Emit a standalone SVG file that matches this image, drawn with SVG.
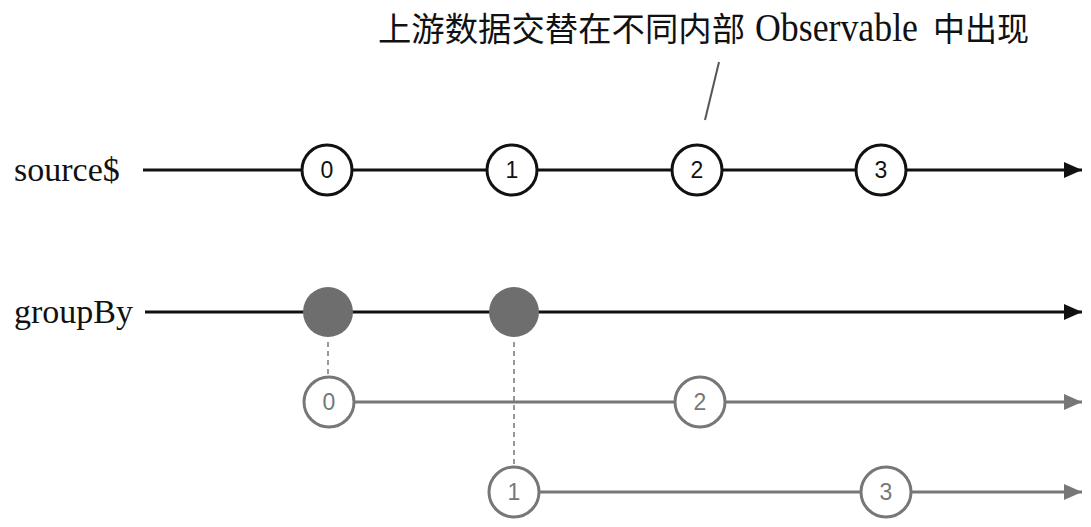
<svg xmlns="http://www.w3.org/2000/svg" width="1091" height="527" viewBox="0 0 1091 527">
<style>
.lbl{font-family:"Liberation Serif","Noto Sans CJK SC",serif;font-size:34px;fill:#111}
.title{font-family:"Liberation Serif","Noto Sans CJK SC",serif;font-size:33px;fill:#111}
.num{font-family:"Liberation Sans",Arial,sans-serif;font-size:23px;text-anchor:middle}
.blk{stroke:#111;stroke-width:3;fill:none}
.gry{stroke:#777;stroke-width:3;fill:none}
.cb{fill:#fff;stroke:#111;stroke-width:3}
.cg{fill:#fff;stroke:#777;stroke-width:3}
.nb{fill:#111}
.ng{fill:#777}
.dash{stroke:#777;stroke-width:1.5;stroke-dasharray:5,4;fill:none}
</style>
<defs>
<marker id="ab" markerWidth="18" markerHeight="16" refX="18" refY="8" orient="auto" markerUnits="userSpaceOnUse" viewBox="0 0 18 16"><path d="M0,0 L18,8 L0,16 z" fill="#111"/></marker>
<marker id="ag" markerWidth="18" markerHeight="16" refX="18" refY="8" orient="auto" markerUnits="userSpaceOnUse" viewBox="0 0 18 16"><path d="M0,0 L18,8 L0,16 z" fill="#777"/></marker>
</defs>
<rect width="1091" height="527" fill="#fff"/>
<text class="title" y="41"><tspan x="378" textLength="367" lengthAdjust="spacingAndGlyphs">上游数据交替在不同内部</tspan><tspan x="755" font-size="39" textLength="163" lengthAdjust="spacingAndGlyphs">Observable</tspan><tspan x="933" textLength="96" lengthAdjust="spacingAndGlyphs">中出现</tspan></text>
<line x1="719" y1="62" x2="705" y2="120" stroke="#555" stroke-width="2"/>
<text class="lbl" x="14" y="181">source$</text>
<text class="lbl" x="14" y="323">groupBy</text>
<g id="connectors">
<line class="blk" x1="143" y1="170" x2="1082" y2="170" marker-end="url(#ab)"/>
<line class="blk" x1="145" y1="312" x2="1082" y2="312" marker-end="url(#ab)"/>
<line class="gry" x1="354" y1="402" x2="1082" y2="402" marker-end="url(#ag)"/>
<line class="gry" x1="539" y1="492" x2="1082" y2="492" marker-end="url(#ag)"/>
<line class="dash" x1="328" y1="342" x2="328" y2="376"/>
<line class="dash" x1="514" y1="342" x2="514" y2="466"/>
</g>
<g id="s0"><circle class="cb" cx="327" cy="170" r="25"/><text class="num nb" x="327" y="178">0</text></g>
<g id="s1"><circle class="cb" cx="512" cy="170" r="25"/><text class="num nb" x="512" y="178">1</text></g>
<g id="s2"><circle class="cb" cx="697" cy="170" r="25"/><text class="num nb" x="697" y="178">2</text></g>
<g id="s3"><circle class="cb" cx="881" cy="170" r="25"/><text class="num nb" x="881" y="178">3</text></g>
<g id="g0"><circle cx="328" cy="312" r="25" fill="#6e6e6e"/></g>
<g id="g1"><circle cx="514" cy="312" r="25" fill="#6e6e6e"/></g>
<g id="a0"><circle class="cg" cx="329" cy="402" r="25"/><text class="num ng" x="329" y="410">0</text></g>
<g id="a2"><circle class="cg" cx="700" cy="402" r="25"/><text class="num ng" x="700" y="410">2</text></g>
<g id="b1"><circle class="cg" cx="514" cy="492" r="25"/><text class="num ng" x="514" y="500">1</text></g>
<g id="b3"><circle class="cg" cx="886" cy="492" r="25"/><text class="num ng" x="886" y="500">3</text></g>
</svg>
